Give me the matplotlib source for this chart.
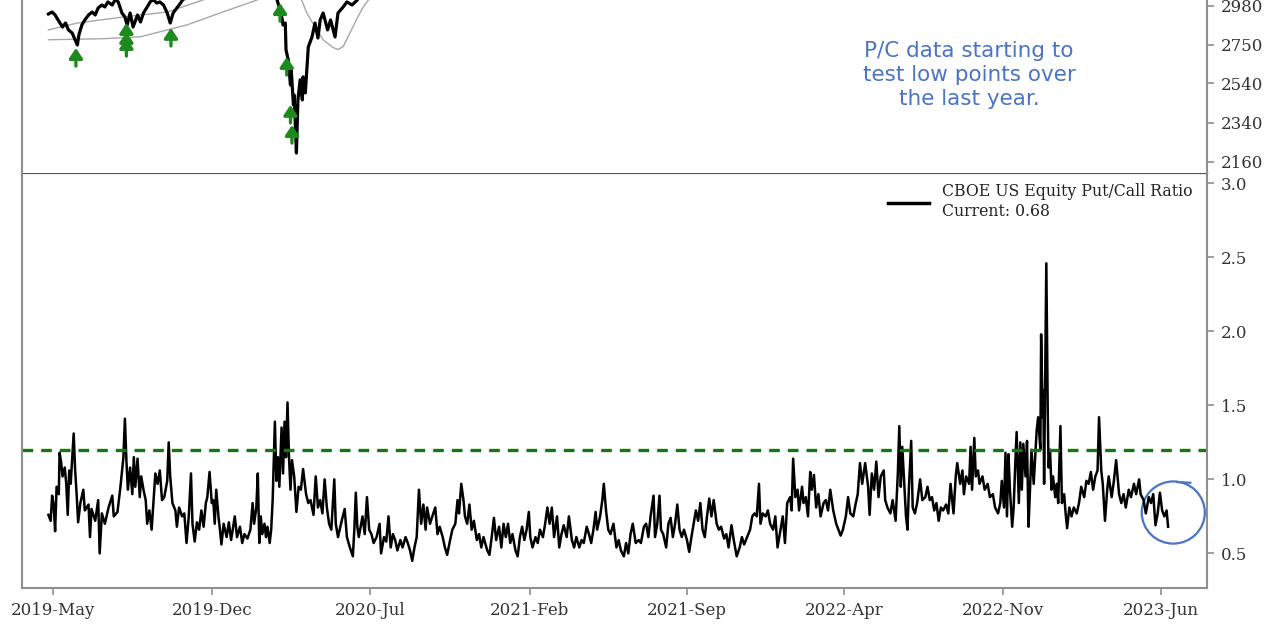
import matplotlib

matplotlib.use("Agg")
import matplotlib.dates as mdates
import matplotlib.pyplot as plt
import pandas as pd
from matplotlib.patches import Ellipse
from matplotlib.ticker import FixedLocator, NullLocator

# ---- data (days counted from BASE_DATE) ----
BASE_DATE = "2019-05-01"

# CBOE US equity put/call ratio
pc_days_2019 = [
    -6, -3, -1, 1, 3, 5, 8, 9, 11, 13, 16, 18, 20, 22, 24, 28, 30, 32, 34, 37,
    41, 43, 48, 50, 52, 57, 61, 63, 66, 70, 75, 80, 82, 87, 91, 95, 97, 99, 101, 104,
    107, 109, 111, 114, 117, 119, 122, 125, 127, 130, 133, 138, 141, 144, 147, 150, 154, 156, 158, 161,
    165, 167, 170, 174, 177, 180, 183, 186, 188, 191, 194, 197, 200, 203, 206, 208, 211, 214, 216, 218,
    220, 223, 225, 227, 230, 234, 237, 240, 245, 248, 252, 255, 258, 262, 266, 269, 271, 274, 276, 278,
    280, 282, 285, 287, 289, 292, 294, 296, 299, 301, 303, 305, 308, 310, 312, 314, 316, 318, 320, 322,
    325, 328, 331, 334, 337, 341, 344, 347, 351, 354, 357, 360, 363, 366, 369, 372,
]
pc_vals_2019 = [
    0.76, 0.72, 0.89, 0.83, 0.65, 0.95, 0.90, 1.18, 1.12, 1.02, 1.08, 0.97, 0.76, 1.06, 0.97, 1.31, 1.06, 0.90, 0.71, 0.84,
    0.93, 0.79, 0.83, 0.61, 0.80, 0.72, 0.86, 0.50, 0.77, 0.70, 0.81, 0.89, 0.75, 0.78, 0.95, 1.15, 1.41, 1.13, 0.93, 1.08,
    0.90, 1.15, 0.95, 1.14, 0.88, 1.02, 0.93, 0.86, 0.70, 0.79, 0.66, 1.04, 0.97, 1.06, 0.86, 0.88, 0.99, 1.25, 1.02, 0.84,
    0.79, 0.68, 0.81, 0.75, 0.77, 0.57, 0.75, 1.04, 0.70, 0.58, 0.71, 0.66, 0.79, 0.68, 0.84, 0.88, 1.05, 0.84, 0.86, 0.70,
    0.93, 0.75, 0.66, 0.56, 0.70, 0.61, 0.71, 0.59, 0.75, 0.61, 0.68, 0.57, 0.63, 0.60, 0.66, 0.84, 0.70, 0.81, 1.04, 0.57,
    0.75, 0.63, 0.70, 0.61, 0.68, 0.57, 0.66, 0.86, 1.39, 0.99, 1.15, 0.95, 1.35, 1.04, 1.39, 1.15, 1.52, 1.15, 0.93, 1.13,
    1.02, 0.78, 0.95, 0.93, 1.07, 0.90, 0.84, 0.86, 0.76, 1.02, 0.81, 0.86, 0.77, 1.00, 0.81, 0.70,
]

pc_days_2020 = [
    375, 379, 381, 384, 389, 393, 396, 400, 404, 406, 408, 410, 412, 417, 420, 423, 426, 429, 432, 436,
    440, 442, 446, 449, 452, 455, 458, 461, 464, 468, 471, 475, 478, 481, 484, 487, 490, 493, 496, 499,
    502, 504, 508, 511, 515, 518, 521, 525, 528, 531, 535, 538, 542, 545, 547, 550, 553, 555, 558, 561,
    564, 567, 571, 574, 577, 580, 585, 588, 591, 594, 597, 601, 604, 607, 610, 613, 616, 619, 623, 626,
    629, 632, 635, 638, 641, 643, 646, 650, 653, 656, 660, 663, 666, 669, 672, 675, 679, 682, 685, 688,
    692, 695, 699, 702, 705, 709, 712, 715, 719, 722, 725, 728, 731, 733, 737, 740, 742, 745, 748, 751,
    755, 759, 762, 765, 769, 772, 775,
]
pc_vals_2020 = [
    0.66, 1.00, 0.70, 0.61, 0.72, 0.80, 0.61, 0.54, 0.48, 0.66, 0.91, 0.68, 0.61, 0.75, 0.63, 0.88, 0.66, 0.63, 0.57, 0.61,
    0.70, 0.50, 0.61, 0.58, 0.75, 0.54, 0.63, 0.59, 0.52, 0.59, 0.54, 0.61, 0.57, 0.52, 0.45, 0.54, 0.61, 0.93, 0.70, 0.83,
    0.66, 0.81, 0.70, 0.75, 0.81, 0.63, 0.68, 0.61, 0.54, 0.49, 0.59, 0.66, 0.70, 0.86, 0.77, 0.97, 0.86, 0.75, 0.70, 0.83,
    0.66, 0.72, 0.59, 0.63, 0.54, 0.61, 0.52, 0.49, 0.61, 0.74, 0.59, 0.68, 0.54, 0.70, 0.61, 0.70, 0.57, 0.63, 0.52, 0.48,
    0.61, 0.68, 0.59, 0.66, 0.78, 0.61, 0.54, 0.61, 0.57, 0.66, 0.61, 0.70, 0.81, 0.70, 0.81, 0.61, 0.75, 0.54, 0.63, 0.69,
    0.61, 0.75, 0.59, 0.54, 0.61, 0.54, 0.59, 0.57, 0.68, 0.63, 0.57, 0.66, 0.78, 0.66, 0.75, 0.86, 0.97, 0.79, 0.66, 0.63,
    0.70, 0.54, 0.59, 0.52, 0.48, 0.57, 0.50,
]

pc_days_2021 = [
    778, 781, 785, 789, 792, 796, 799, 802, 805, 809, 811, 814, 817, 819, 822, 826, 829, 832, 835, 838,
    841, 844, 847, 850, 854, 857, 860, 863, 866, 869, 872, 875, 878, 881, 884, 887, 890, 894, 897, 900,
    904, 907, 910, 914, 917, 921, 925, 928, 931, 935, 939, 942, 945, 948, 951, 953, 956, 960, 963, 966,
    970, 973, 976, 980, 983, 986, 989, 993, 995, 997, 1000, 1003, 1005, 1009, 1011, 1014, 1017, 1020, 1022, 1025,
    1028, 1031, 1034, 1038, 1041, 1044, 1047, 1051, 1055, 1058, 1061, 1064, 1068, 1071, 1074, 1078, 1081, 1084, 1087, 1090,
    1094, 1098, 1100, 1103, 1106, 1109, 1112, 1115, 1119, 1121, 1124, 1128, 1131, 1135, 1138, 1140, 1142, 1144, 1147, 1149,
    1151, 1153, 1156, 1158, 1161, 1164, 1168, 1171, 1175, 1178, 1181,
]
pc_vals_2021 = [
    0.63, 0.70, 0.57, 0.59, 0.57, 0.68, 0.70, 0.61, 0.75, 0.89, 0.61, 0.70, 0.89, 0.66, 0.63, 0.54, 0.70, 0.74, 0.61, 0.70,
    0.83, 0.66, 0.61, 0.66, 0.59, 0.51, 0.61, 0.70, 0.79, 0.72, 0.84, 0.66, 0.61, 0.75, 0.87, 0.75, 0.86, 0.70, 0.66, 0.68,
    0.60, 0.63, 0.54, 0.69, 0.59, 0.48, 0.54, 0.61, 0.56, 0.61, 0.66, 0.75, 0.77, 0.75, 0.97, 0.70, 0.77, 0.75, 0.79, 0.70,
    0.66, 0.75, 0.54, 0.66, 0.75, 0.57, 0.84, 0.88, 0.79, 1.14, 0.88, 0.93, 0.79, 0.95, 0.84, 0.88, 0.75, 1.05, 0.93, 1.03,
    0.81, 0.90, 0.75, 0.84, 0.86, 0.79, 0.93, 0.79, 0.70, 0.66, 0.62, 0.66, 0.75, 0.88, 0.77, 0.75, 0.83, 0.90, 1.11, 0.97,
    1.11, 0.95, 0.76, 1.04, 0.93, 1.12, 0.88, 1.02, 1.06, 0.86, 0.81, 0.77, 0.86, 0.72, 1.04, 1.36, 0.95, 1.22, 0.93, 0.75,
    0.66, 0.95, 1.26, 0.81, 0.77, 0.84, 1.00, 0.86, 0.88, 0.95, 0.86,
]

pc_days_2022 = [
    1184, 1187, 1190, 1193, 1196, 1199, 1203, 1206, 1209, 1213, 1216, 1218, 1222, 1225, 1227, 1230, 1234, 1236, 1238, 1241,
    1243, 1246, 1248, 1252, 1255, 1259, 1262, 1266, 1269, 1273, 1276, 1278, 1281, 1283, 1285, 1287, 1289, 1292, 1294, 1296,
    1298, 1301, 1303, 1305, 1307, 1310, 1312, 1314, 1316, 1318, 1321, 1323, 1325, 1327, 1330, 1331, 1333, 1334, 1335, 1337,
    1338, 1340, 1341, 1343, 1345, 1347, 1350, 1352, 1354, 1357, 1359, 1362, 1364, 1366, 1369, 1372, 1375, 1379, 1382, 1385,
    1389, 1392, 1395, 1398, 1401, 1404, 1407, 1409, 1412, 1414, 1417, 1420, 1422, 1426, 1429, 1432, 1436, 1439, 1442, 1445,
    1449, 1452, 1456, 1459, 1463, 1465, 1469, 1472, 1476, 1479, 1482, 1485, 1488, 1491, 1494, 1497, 1500, 1502,
]
pc_vals_2022 = [
    0.88, 0.79, 0.84, 0.72, 0.81, 0.79, 0.83, 0.77, 0.97, 0.77, 1.02, 1.11, 0.97, 1.06, 0.90, 1.02, 0.97, 1.22, 0.93, 1.28,
    1.02, 1.06, 0.97, 1.02, 0.93, 0.97, 0.88, 0.90, 0.81, 0.77, 0.84, 0.99, 0.81, 1.18, 0.75, 1.17, 0.93, 0.68, 0.81, 1.08,
    1.32, 0.84, 1.25, 0.93, 1.24, 1.02, 1.26, 0.68, 0.93, 1.20, 0.97, 1.15, 1.33, 1.42, 1.20, 1.98, 1.42, 1.60, 0.97, 1.98,
    2.46, 1.42, 1.08, 1.20, 0.93, 1.02, 0.88, 0.97, 0.84, 1.36, 0.84, 0.90, 0.77, 0.67, 0.81, 0.75, 0.81, 0.77, 0.84, 0.95,
    0.88, 0.99, 0.97, 1.05, 0.93, 1.02, 1.06, 1.42, 1.06, 0.97, 0.72, 0.93, 1.02, 0.88, 0.99, 1.13, 0.90, 0.84, 0.90, 0.81,
    0.93, 0.88, 0.97, 0.90, 1.00, 0.90, 0.86, 0.77, 0.88, 0.84, 0.90, 0.69, 0.77, 0.91, 0.79, 0.75, 0.79, 0.68,
]

PC_THRESHOLD = 1.2

# S&P 500 (top panel, only the part left inside the crop)
spx_days = [
    -6, -1, 3, 7, 13, 17, 21, 26, 30, 33, 35, 39, 43, 48, 53, 57, 61, 66, 70, 74,
    80, 84, 88, 93, 97, 100, 104, 108, 114, 118, 122, 127, 131, 135, 140, 144, 149, 154, 158, 162,
    168, 172, 175, 200, 240, 270, 294, 299, 302, 306, 309, 310, 313, 314, 317, 320, 321, 324, 325, 326,
    328, 330, 333, 336, 337, 340, 344, 349, 353, 357, 360, 364, 370, 374, 380, 384, 391, 396, 403, 410,
    421,
]
spx_vals = [
    2931, 2943, 2925, 2895, 2853, 2877, 2836, 2818, 2778, 2749, 2807, 2865, 2895, 2925, 2943, 2925, 2968, 2986, 2974, 3005,
    2986, 3020, 3005, 2937, 2913, 2865, 2937, 2853, 2925, 2883, 2937, 2974, 3005, 3020, 2998, 3005, 2986, 2937, 2877, 2937,
    2974, 2998, 3020, 3070, 3150, 3250, 3380, 3230, 3017, 2955, 2895, 2865, 2877, 2721, 2665, 2531, 2611, 2429, 2479, 2379,
    2199, 2454, 2558, 2454, 2574, 2490, 2738, 2795, 2877, 2789, 2895, 2937, 2836, 2895, 2795, 2937, 2974, 3005, 2986, 3017,
    3150,
]

# thin grey overlay curves on the price panel
curve_low_days = [-6, 68, 118, 144, 181, 225, 275, 300]
curve_low_vals = [2779, 2785, 2796, 2825, 2866, 2937, 3017, 3080]
curve_high_days = [-6, 33, 95, 154, 202, 230]
curve_high_vals = [2836, 2877, 2913, 2943, 3017, 3070]
curve_band_days = [330, 335, 342, 353, 364, 377, 384, 391, 400, 410, 418, 425, 430]
curve_band_vals = [3060, 3017, 2937, 2854, 2779, 2735, 2724, 2740, 2818, 2907, 2974, 3017, 3060]

# green buy signals (arrow head level)
signal_days = [31, 99, 99, 99, 159, 306, 315, 320, 322]
signal_vals = [2732, 2877, 2824, 2789, 2848, 2998, 2682, 2429, 2330]

spx_ticks = [2160, 2340, 2540, 2750, 2980]
pc_ticks = [0.5, 1.0, 1.5, 2.0, 2.5, 3.0]
x_tick_dates = ["2019-05-01", "2019-12-01", "2020-07-01", "2021-02-01",
                "2021-09-01", "2022-04-01", "2022-11-01", "2023-06-01"]

LEGEND_LABEL = "CBOE US Equity Put/Call Ratio\nCurrent: 0.68"
NOTE_TEXT = "P/C data starting to\ntest low points over\nthe last year."


def to_dates(days):
    return pd.Timestamp(BASE_DATE) + pd.to_timedelta(days, unit="D")


SPINE = "#8f8f8f"
LABEL = "#333333"
BLUE = "#4a74c4"

plt.rcParams["font.family"] = ["DejaVu Serif"]

fig = plt.figure(figsize=(12.8, 6.4), dpi=100)
left, width = 21.7 / 1280, 1185 / 1280
ax_pc = fig.add_axes([left, 51.7 / 640, width, 415.3 / 640])
ax_px = fig.add_axes([left, 467 / 640, width, 173 / 640], sharex=ax_pc)

# ---- bottom: put/call ratio ----
pc_days = pc_days_2019 + pc_days_2020 + pc_days_2021 + pc_days_2022
pc_vals = pc_vals_2019 + pc_vals_2020 + pc_vals_2021 + pc_vals_2022
ax_pc.plot(to_dates(pc_days), pc_vals, color="black", lw=1.8, label=LEGEND_LABEL)
ax_pc.axhline(PC_THRESHOLD, color="#127a12", lw=2.4, linestyle=(0, (3.2, 2.4)))

ax_pc.set_ylim(0.264, 3.07)
ax_pc.set_xlim(to_dates([-42])[0], to_dates([1554])[0])
ax_pc.yaxis.tick_right()
ax_pc.yaxis.set_major_locator(FixedLocator(pc_ticks))
ax_pc.set_yticklabels([f"{t:.1f}" for t in pc_ticks])
ax_pc.xaxis.set_major_locator(FixedLocator(mdates.date2num(pd.to_datetime(x_tick_dates))))
ax_pc.xaxis.set_major_formatter(mdates.DateFormatter("%Y-%b"))
ax_pc.tick_params(axis="both", direction="out", length=5, width=1.2, color=SPINE,
                  labelsize=12, labelcolor=LABEL, pad=5)
for side in ["left", "bottom", "right"]:
    ax_pc.spines[side].set_color(SPINE)
    ax_pc.spines[side].set_linewidth(1.5)
ax_pc.spines["top"].set_color("#555555")
ax_pc.spines["top"].set_linewidth(1.6)

leg = ax_pc.legend(loc="upper right", bbox_to_anchor=(0.988, 0.975), frameon=False,
                   borderpad=0, borderaxespad=0, handlelength=2.6, handletextpad=0.8,
                   prop={"family": "DejaVu Serif", "size": 11.3})
for line in leg.get_lines():
    line.set_linewidth(2.5)
for txt in leg.get_texts():
    txt.set_color("#222222")

# hand-drawn style circle around the latest readings
circle_center = mdates.date2num(to_dates([1509])[0])
ax_pc.add_patch(Ellipse((circle_center, 0.776), 85, 0.42, angle=0, fill=False,
                        edgecolor=BLUE, lw=1.6))
ax_pc.plot(to_dates([1514, 1532]), [0.982, 0.977], color=BLUE, lw=1.6)

# ---- top: S&P 500 (log scale, cropped) ----
ax_px.set_yscale("log")
ax_px.plot(to_dates(curve_low_days), curve_low_vals, color="#a8a8a8", lw=1)
ax_px.plot(to_dates(curve_high_days), curve_high_vals, color="#a8a8a8", lw=1)
ax_px.plot(to_dates(curve_band_days), curve_band_vals, color="#a8a8a8", lw=1)
ax_px.plot(to_dates(spx_days), spx_vals, color="black", lw=2.3)
for d, v in zip(to_dates(signal_days), signal_vals):
    ax_px.annotate("", xy=(d, v), xytext=(0, -13), textcoords="offset points",
                   arrowprops=dict(arrowstyle="-|>,head_width=0.4,head_length=0.6",
                                   color="#1d8a1d", lw=2.4, mutation_scale=10,
                                   shrinkA=0, shrinkB=0))

ax_px.set_ylim(2110, 3017)
ax_px.yaxis.tick_right()
ax_px.yaxis.set_major_locator(FixedLocator(spx_ticks))
ax_px.yaxis.set_minor_locator(NullLocator())
ax_px.set_yticklabels([str(t) for t in spx_ticks])
ax_px.tick_params(axis="y", direction="out", length=5, width=1.2, color=SPINE,
                  labelsize=12, labelcolor=LABEL, pad=5)
ax_px.tick_params(axis="x", bottom=False, labelbottom=False)
ax_px.spines["top"].set_visible(False)
ax_px.spines["bottom"].set_visible(False)
for side in ["left", "right"]:
    ax_px.spines[side].set_color(SPINE)
    ax_px.spines[side].set_linewidth(1.5)

fig.text(0.757, 1 - 75 / 640, NOTE_TEXT, ha="center", va="center", color=BLUE,
         fontsize=15.5, family=["DejaVu Sans"], linespacing=1.22)

fig.savefig("out.png", dpi=100)
